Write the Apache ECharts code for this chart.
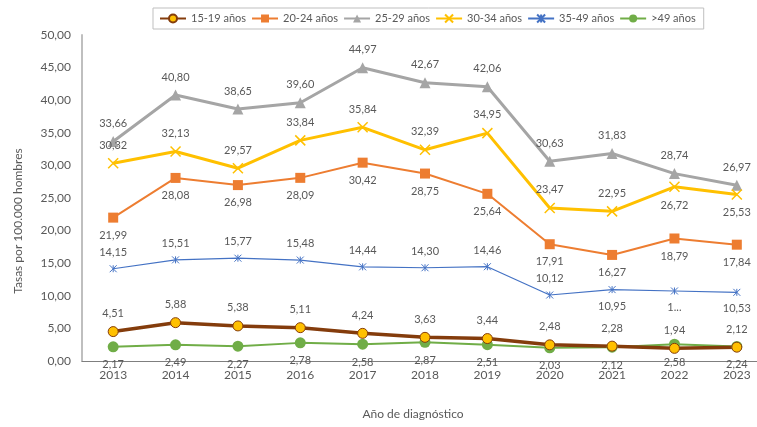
<!DOCTYPE html>
<html>
<head>
<meta charset="utf-8">
<script src="https://cdn.jsdelivr.net/npm/echarts@6/dist/echarts.min.js"></script>
<style>
  html, body { margin: 0; padding: 0; background: #fff; }
  #chart { width: 757px; height: 427px; }
</style>
</head>
<body>
<div id="chart"></div>
<script>
// años de diagnóstico
var years = ['2013', '2014', '2015', '2016', '2017', '2018', '2019', '2020', '2021', '2022', '2023'];

// tasas por 100.000 hombres, por grupo de edad
var tasa1519 = [4.51, 5.88, 5.38, 5.11, 4.24, 3.63, 3.44, 2.48, 2.28, 1.94, 2.12];
var tasa2024 = [21.99, 28.08, 26.98, 28.09, 30.42, 28.75, 25.64, 17.91, 16.27, 18.79, 17.84];
var tasa2529 = [33.66, 40.80, 38.65, 39.60, 44.97, 42.67, 42.06, 30.63, 31.83, 28.74, 26.97];
var tasa3034 = [30.32, 32.13, 29.57, 33.84, 35.84, 32.39, 34.95, 23.47, 22.95, 26.72, 25.53];
var tasa3549 = [14.15, 15.51, 15.77, 15.48, 14.44, 14.30, 14.46, 10.12, 10.95, 10.74, 10.53];
var tasa49 = [2.17, 2.49, 2.27, 2.78, 2.58, 2.87, 2.51, 2.03, 2.12, 2.58, 2.24];

var seriesNames = ['15-19 años', '20-24 años', '25-29 años', '30-34 años', '35-49 años', '>49 años'];

var FONT = 'Lato';
var GRAY = '#595959';

function fmt(v) {
    return v.toFixed(2).replace('.', ',');
}

// etiqueta arriba o abajo segun el punto
function withLabels(values, belowIdx, texts) {
    return values.map(function (v, i) {
        return {
            value: v,
            label: {
                position: belowIdx.indexOf(i) >= 0 ? 'bottom' : 'top',
                formatter: texts && texts[i] ? texts[i] : fmt(v)
            }
        };
    });
}

var baseLabel = {
    show: true,
    distance: 7,
    color: GRAY,
    fontFamily: FONT,
    fontSize: 11
};

var myChart = echarts.init(document.getElementById('chart'));

var option = {
    animation: false,
    textStyle: { fontFamily: FONT },
    legend: {
        data: seriesNames,
        left: 153,
        top: 8,
        width: 620,
        padding: [5, 8, 5, 6],
        borderColor: '#BFBFBF',
        borderWidth: 1,
        itemWidth: 26,
        itemHeight: 10,
        itemGap: 5,
        textStyle: { color: GRAY, fontSize: 11, fontFamily: FONT }
    },
    grid: {
        left: 82,
        width: 686,
        top: 35,
        bottom: 66,
        outerBoundsMode: 'none'
    },
    xAxis: {
        type: 'category',
        data: years,
        boundaryGap: true,
        name: 'Año de diagnóstico',
        nameLocation: 'middle',
        nameGap: 47,
        nameTextStyle: { color: GRAY, fontSize: 12, fontFamily: FONT, padding: [0, 24, 0, 0] },
        axisLine: { lineStyle: { color: '#7F7F7F', width: 1 } },
        axisTick: { show: false },
        axisLabel: { color: GRAY, fontSize: 12, fontFamily: FONT, margin: 8 }
    },
    yAxis: {
        type: 'value',
        min: 0,
        max: 50,
        interval: 5,
        name: 'Tasas por 100.000 hombres',
        nameLocation: 'middle',
        nameGap: 58,
        nameTextStyle: { color: GRAY, fontSize: 12, fontFamily: FONT, padding: [0, 46, 0, 0] },
        axisLine: { show: true, lineStyle: { color: '#BFBFBF', width: 2 } },
        axisTick: { show: false },
        splitLine: { show: false },
        axisLabel: {
            color: GRAY, fontSize: 12, fontFamily: FONT, margin: 11,
            formatter: function (v) { return fmt(v); }
        }
    },
    series: [
        {
            name: seriesNames[2],
            type: 'line',
            data: withLabels(tasa2529, []),
            symbol: 'triangle',
            symbolSize: 11,
            itemStyle: { color: '#A5A5A5' },
            lineStyle: { color: '#A5A5A5', width: 3 },
            label: baseLabel
        },
        {
            name: seriesNames[1],
            type: 'line',
            data: withLabels(tasa2024, [0, 1, 2, 3, 4, 5, 6, 7, 8, 9, 10]),
            symbol: 'rect',
            symbolSize: 10,
            itemStyle: { color: '#ED7D31' },
            lineStyle: { color: '#ED7D31', width: 2 },
            label: baseLabel
        },
        {
            name: seriesNames[3],
            type: 'line',
            data: withLabels(tasa3034, [9, 10]),
            symbol: 'path://M0,0 L10,10 M10,0 L0,10',
            symbolSize: 10,
            itemStyle: { color: 'rgba(0,0,0,0)', borderColor: '#FFC000', borderWidth: 1.5 },
            lineStyle: { color: '#FFC000', width: 3 },
            label: baseLabel
        },
        {
            name: seriesNames[4],
            type: 'line',
            data: withLabels(tasa3549, [8, 9, 10], { 9: '1...' }),
            symbol: 'path://M0,0 L10,10 M10,0 L0,10 M5,0 L5,10',
            symbolSize: 7,
            itemStyle: { color: 'rgba(0,0,0,0)', borderColor: '#4472C4', borderWidth: 1 },
            lineStyle: { color: '#4472C4', width: 1.2 },
            label: baseLabel
        },
        {
            name: seriesNames[5],
            type: 'line',
            data: withLabels(tasa49, [0, 1, 2, 3, 4, 5, 6, 7, 8, 9, 10]),
            symbol: 'circle',
            symbolSize: 11,
            itemStyle: { color: '#70AD47' },
            lineStyle: { color: '#70AD47', width: 2 },
            label: baseLabel
        },
        {
            name: seriesNames[0],
            type: 'line',
            data: withLabels(tasa1519, []),
            symbol: 'circle',
            symbolSize: 10,
            itemStyle: { color: '#FFC000', borderColor: '#843C0C', borderWidth: 1 },
            lineStyle: { color: '#843C0C', width: 3.5 },
            label: baseLabel
        }
    ]
};

myChart.setOption(option);
</script>
</body>
</html>
